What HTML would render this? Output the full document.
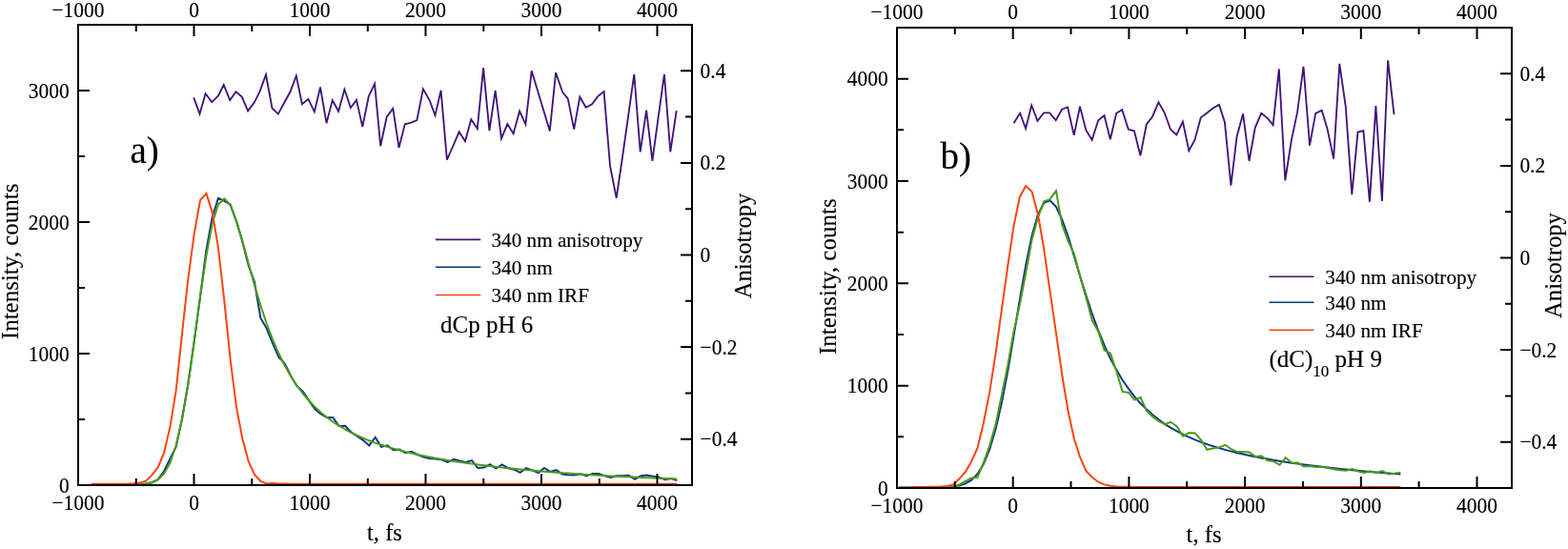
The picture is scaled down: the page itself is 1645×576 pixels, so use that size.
<!DOCTYPE html>
<html><head><meta charset="utf-8"><style>
html,body{margin:0;padding:0;background:#fff;}
svg{display:block;}
text{font-family:"Liberation Serif","Times New Roman",serif;fill:#000;stroke:#000;stroke-width:0.15px;}
.tk{font-size:22px;}
.ax{font-size:25px;}
.ax2{font-size:24.6px;}
.lg{font-size:21.2px;}
.an{font-size:25px;}
.sub{font-size:17px;}
.pl{font-size:39px;}
</style></head><body>
<svg width="1645" height="576" viewBox="0 0 1645 576">
<rect width="1645" height="576" fill="#fff"/>
<polyline points="203.2,102.4 209.5,119.6 215.6,98.2 222.3,107.2 229.0,100.5 234.7,89.0 241.2,105.1 247.5,96.3 253.8,101.6 260.1,116.4 266.6,107.8 272.6,95.9 279.0,78.3 285.5,113.5 291.8,119.6 298.2,107.8 304.5,96.3 310.8,79.5 316.9,109.3 323.4,103.9 329.9,117.3 336.0,91.5 342.5,129.2 348.8,105.3 355.1,116.7 361.4,93.8 367.9,113.1 374.0,104.9 380.3,133.0 386.8,101.1 393.1,87.9 399.2,153.2 405.7,122.7 412.3,113.9 418.5,154.9 424.8,130.3 430.7,128.8 437.4,126.1 443.9,93.4 450.7,105.3 456.5,121.1 462.6,94.8 468.9,167.7 475.4,153.0 481.7,138.3 488.0,148.3 494.3,125.3 500.8,135.1 507.1,71.1 513.4,137.2 519.7,95.0 526.0,145.4 532.3,130.1 538.6,140.2 545.1,116.5 551.4,130.3 557.7,74.3 564.0,95.1 570.3,116.0 576.8,137.4 583.1,76.2 590.0,96.4 595.8,103.6 602.2,135.6 608.3,101.7 614.7,112.8 621.1,109.4 627.2,101.1 633.6,96.1 640.0,173.9 646.7,207.8 653.0,165.0 659.2,121.1 665.3,77.8 671.7,159.4 678.1,115.6 684.4,168.9 690.6,123.3 696.9,77.8 703.3,159.4 709.7,116.1" fill="none" stroke="#42137a" stroke-width="1.85" stroke-linejoin="miter" stroke-miterlimit="4" />
<polyline points="96.0,508.4 102.4,508.4 108.7,508.4 115.0,508.4 121.4,508.4 127.7,508.4 134.0,508.4 140.4,508.4 146.7,508.2 153.0,507.6 159.4,506.2 165.7,503.2 172.0,494.5 178.4,481.5 184.7,468.6 191.0,439.5 197.4,402.5 203.7,358.4 210.0,311.7 216.4,262.5 222.7,227.8 229.0,207.9 235.4,210.9 241.7,214.7 248.0,232.3 254.4,253.8 260.7,278.5 267.0,296.1 273.4,333.7 279.7,344.6 286.0,360.2 292.4,374.6 298.7,381.4 305.0,394.2 311.4,404.9 317.7,410.7 324.0,420.1 330.3,429.1 336.7,434.3 343.0,437.9 349.3,438.1 355.7,447.0 362.0,446.7 368.3,453.3 374.7,457.6 381.0,461.8 387.3,467.4 393.7,458.7 400.0,468.9 406.3,467.3 412.7,472.3 419.0,471.6 425.3,475.2 431.7,473.7 438.0,477.0 444.3,479.6 450.7,481.1 457.0,481.6 463.3,482.2 469.7,484.8 476.0,481.7 482.3,483.5 488.7,485.0 495.0,483.1 501.3,491.0 507.7,490.6 514.0,487.2 520.3,491.5 526.7,487.5 533.0,491.0 539.3,492.7 545.7,495.8 552.0,491.2 558.3,493.4 564.7,496.0 571.0,490.9 577.3,494.9 583.6,493.2 590.0,497.5 596.3,498.2 602.6,498.5 609.0,497.2 615.3,499.1 621.6,497.0 628.0,497.1 634.3,499.2 640.6,501.0 647.0,499.3 653.3,499.2 659.6,498.7 666.0,502.9 672.3,499.3 678.6,498.5 685.0,499.7 691.3,500.8 697.6,503.2 704.0,502.0 710.3,504.0" fill="none" stroke="#0b3888" stroke-width="2.0" stroke-linejoin="miter" stroke-miterlimit="4" />
<polyline points="96.0,508.4 102.4,508.4 108.7,508.4 115.0,508.4 121.4,508.4 127.7,508.4 134.0,508.4 140.4,508.4 146.7,508.2 153.0,507.6 159.4,506.2 165.7,503.2 172.0,497.0 178.4,485.8 184.7,467.1 191.0,439.5 197.4,402.5 203.7,358.4 210.0,311.7 216.4,268.5 222.7,234.7 229.0,214.4 235.4,208.5 241.7,215.4 248.0,231.6 254.4,253.0 260.7,276.4 267.0,299.3 273.4,320.5 279.7,339.5 286.0,356.2 292.4,370.8 298.7,383.5 305.0,394.6 311.4,404.3 317.7,412.8 324.0,420.3 330.3,426.9 336.7,432.7 343.0,437.9 349.3,442.6 355.7,446.7 362.0,450.5 368.3,453.9 374.7,456.9 381.0,459.7 387.3,462.3 393.7,464.6 400.0,466.8 406.3,468.8 412.7,470.6 419.0,472.3 425.3,474.0 431.7,475.5 438.0,476.9 444.3,478.2 450.7,479.5 457.0,480.7 463.3,481.8 469.7,482.9 476.0,483.9 482.3,484.8 488.7,485.8 495.0,486.6 501.3,487.5 507.7,488.3 514.0,489.0 520.3,489.8 526.7,490.5 533.0,491.2 539.3,491.8 545.7,492.4 552.0,493.0 558.3,493.6 564.7,494.2 571.0,494.7 577.3,495.2 583.6,495.7 590.0,496.2 596.3,496.6 602.6,497.1 609.0,497.5 615.3,497.9 621.6,498.3 628.0,498.7 634.3,499.0 640.6,499.4 647.0,499.7 653.3,500.0 659.6,500.3 666.0,500.6 672.3,500.9 678.6,501.2 685.0,501.5 691.3,501.7 697.6,502.0 704.0,502.2 710.3,502.4" fill="none" stroke="#4c9a16" stroke-width="2.0" stroke-linejoin="miter" stroke-miterlimit="4" />
<polyline points="96.0,507.7 102.4,507.7 108.7,507.7 115.0,507.7 121.4,507.7 127.7,507.7 134.0,507.6 140.4,507.3 146.7,506.6 153.0,504.6 159.4,498.4 165.7,490.3 172.0,475.4 178.4,448.1 184.7,409.7 191.0,350.2 197.4,292.2 203.7,245.5 210.0,210.0 216.4,203.0 222.7,222.6 229.0,260.3 235.4,316.3 241.7,377.3 248.0,427.1 254.4,460.6 260.7,484.1 267.0,498.0 273.4,504.8 279.7,507.4 286.0,506.9 292.4,507.5 298.7,507.6 305.0,507.7 311.4,507.7 317.7,507.7 324.0,507.7 330.3,507.7 336.7,507.7 343.0,507.7 349.3,507.7 355.7,507.7 362.0,507.7 368.3,507.7 374.7,507.7 381.0,507.7 387.3,507.7 393.7,507.7 400.0,507.7 406.3,507.7 412.7,507.7 419.0,507.7 425.3,507.7 431.7,507.7 438.0,507.7 444.3,507.7 450.7,507.7 457.0,507.7 463.3,507.7 469.7,507.7 476.0,507.7 482.3,507.7 488.7,507.7 495.0,507.7 501.3,507.7 507.7,507.7 514.0,507.7 520.3,507.7 526.7,507.7 533.0,507.7 539.3,507.7 545.7,507.7 552.0,507.7 558.3,507.7 564.7,507.7 571.0,507.7 577.3,507.7 583.6,507.7 590.0,507.7 596.3,507.7 602.6,507.7 609.0,507.7 615.3,507.7 621.6,507.7 628.0,507.7 634.3,507.7 640.6,507.7 647.0,507.7 653.3,507.7 659.6,507.7 666.0,507.7 672.3,507.7 678.6,507.7 685.0,507.7 691.3,507.7 697.6,507.7 704.0,507.7 710.3,507.7" fill="none" stroke="#ff4212" stroke-width="2.0" stroke-linejoin="miter" stroke-miterlimit="4" />
<rect x="82" y="26" width="644" height="483" fill="none" stroke="#000" stroke-width="2"/>
<path d="M82.0,26v12M82.0,509v-12M203.5,26v12M203.5,509v-12M325.0,26v12M325.0,509v-12M446.5,26v12M446.5,509v-12M568.0,26v12M568.0,509v-12M689.5,26v12M689.5,509v-12M142.8,26v7M142.8,509v-7M264.3,26v7M264.3,509v-7M385.8,26v7M385.8,509v-7M507.3,26v7M507.3,509v-7M628.8,26v7M628.8,509v-7M82,509.0h12M82,371.0h12M82,233.0h12M82,95.0h12M82,440.0h7M82,302.0h7M82,164.0h7M726,460.7h-12M726,364.1h-12M726,267.5h-12M726,170.9h-12M726,74.3h-12M726,412.4h-7M726,315.8h-7M726,219.2h-7M726,122.6h-7" stroke="#000" stroke-width="2" fill="none"/>
<text transform="translate(82.0,17.5) scale(0.975,1.075)" text-anchor="middle" class="tk">−1000</text>
<text transform="translate(82.0,535.0) scale(0.975,1.075)" text-anchor="middle" class="tk">−1000</text>
<text transform="translate(203.5,17.5) scale(0.975,1.075)" text-anchor="middle" class="tk">0</text>
<text transform="translate(203.5,535.0) scale(0.975,1.075)" text-anchor="middle" class="tk">0</text>
<text transform="translate(325.0,17.5) scale(0.975,1.075)" text-anchor="middle" class="tk">1000</text>
<text transform="translate(325.0,535.0) scale(0.975,1.075)" text-anchor="middle" class="tk">1000</text>
<text transform="translate(446.5,17.5) scale(0.975,1.075)" text-anchor="middle" class="tk">2000</text>
<text transform="translate(446.5,535.0) scale(0.975,1.075)" text-anchor="middle" class="tk">2000</text>
<text transform="translate(568.0,17.5) scale(0.975,1.075)" text-anchor="middle" class="tk">3000</text>
<text transform="translate(568.0,535.0) scale(0.975,1.075)" text-anchor="middle" class="tk">3000</text>
<text transform="translate(689.5,17.5) scale(0.975,1.075)" text-anchor="middle" class="tk">4000</text>
<text transform="translate(689.5,535.0) scale(0.975,1.075)" text-anchor="middle" class="tk">4000</text>
<text transform="translate(72.7,516.5) scale(0.975,1.075)" text-anchor="end" class="tk">0</text>
<text transform="translate(72.7,378.5) scale(0.975,1.075)" text-anchor="end" class="tk">1000</text>
<text transform="translate(72.7,240.5) scale(0.975,1.075)" text-anchor="end" class="tk">2000</text>
<text transform="translate(72.7,102.5) scale(0.975,1.075)" text-anchor="end" class="tk">3000</text>
<text transform="translate(734.6,468.2) scale(0.975,1.075)" class="tk">−0.4</text>
<text transform="translate(734.6,371.6) scale(0.975,1.075)" class="tk">−0.2</text>
<text transform="translate(734.6,275.0) scale(0.975,1.075)" class="tk">0</text>
<text transform="translate(734.6,178.4) scale(0.975,1.075)" class="tk">0.2</text>
<text transform="translate(734.6,81.8) scale(0.975,1.075)" class="tk">0.4</text>
<polyline points="1063.5,129.3 1070.1,118.8 1076.1,134.8 1082.2,110.5 1088.5,126.8 1095.1,118.3 1101.2,118.3 1107.7,126.1 1114.1,114.7 1120.1,112.5 1126.7,141.9 1133.0,111.8 1139.3,136.5 1145.6,146.8 1152.2,126.3 1158.5,121.2 1164.8,146.3 1171.2,118.8 1177.2,115.2 1183.8,135.8 1189.9,137.3 1196.4,163.3 1202.8,130.5 1209.1,122.2 1215.4,107.4 1221.7,118.3 1228.0,135.8 1234.3,141.4 1240.9,127.6 1247.3,158.2 1253.4,147.0 1259.8,123.2 1266.3,118.5 1272.5,113.5 1279.0,109.9 1284.9,128.2 1291.4,194.7 1297.6,143.0 1304.1,119.4 1310.5,169.0 1316.7,134.1 1323.2,118.8 1329.7,123.8 1335.6,131.2 1341.8,72.4 1348.3,189.4 1354.8,147.4 1361.0,117.9 1367.5,69.8 1374.0,152.7 1380.2,118.8 1386.7,115.8 1392.6,135.6 1399.1,166.6 1405.3,66.8 1411.8,112.0 1418.3,204.1 1424.5,138.6 1430.4,137.1 1436.9,211.8 1443.4,111.1 1449.9,210.9 1456.1,63.3 1462.5,120.2" fill="none" stroke="#42137a" stroke-width="1.85" stroke-linejoin="miter" stroke-miterlimit="4" />
<polyline points="943.0,511.5 949.4,511.5 955.7,511.5 962.1,511.5 968.4,511.5 974.7,511.4 981.1,511.4 987.4,511.3 993.8,511.1 1000.1,510.5 1006.4,509.5 1012.8,507.4 1019.1,503.6 1025.5,497.2 1031.8,487.0 1038.1,471.7 1044.5,450.5 1050.8,423.1 1057.2,389.9 1063.5,352.7 1069.8,314.3 1076.2,278.1 1082.5,247.5 1088.9,225.2 1095.2,212.7 1101.5,210.3 1107.9,216.8 1114.2,230.2 1120.6,248.3 1126.9,268.9 1133.2,290.1 1139.6,310.6 1145.9,329.7 1152.3,347.0 1158.6,362.5 1164.9,376.1 1171.3,388.1 1177.6,398.7 1184.0,407.9 1190.3,416.1 1196.6,423.3 1203.0,429.6 1209.3,435.3 1215.7,440.3 1222.0,444.8 1228.3,448.8 1234.7,452.4 1241.0,455.7 1247.4,458.7 1253.7,461.4 1260.0,463.9 1266.4,466.1 1272.7,468.2 1279.1,470.1 1285.4,471.9 1291.7,473.6 1298.1,475.2 1304.4,476.6 1310.8,478.0 1317.1,479.3 1323.4,480.5 1329.8,481.6 1336.1,482.7 1342.5,483.8 1348.8,484.7 1355.1,485.7 1361.5,486.6 1367.8,487.4 1374.2,488.3 1380.5,489.1 1386.8,489.8 1393.2,490.5 1399.5,491.2 1405.9,491.9 1412.2,492.6 1418.5,493.2 1424.9,493.8 1431.2,494.4 1437.6,494.9 1443.9,495.5 1450.2,496.0 1456.6,496.5 1462.9,497.0 1469.3,497.5" fill="none" stroke="#0b3888" stroke-width="2.0" stroke-linejoin="miter" stroke-miterlimit="4" />
<polyline points="943.0,511.5 949.4,511.5 955.7,511.5 962.1,511.5 968.4,511.5 974.7,511.4 981.1,511.4 987.4,511.3 993.8,511.1 1000.1,510.5 1006.4,508.5 1012.8,505.0 1019.1,501.5 1025.5,500.8 1031.8,485.5 1038.1,467.9 1044.5,445.6 1050.8,414.9 1057.2,383.4 1063.5,347.9 1069.8,319.8 1076.2,286.6 1082.5,251.9 1088.9,228.2 1095.2,211.3 1101.5,209.1 1107.9,200.2 1114.2,235.7 1120.6,253.1 1126.9,266.4 1133.2,290.5 1139.6,312.8 1145.9,336.5 1152.3,348.0 1158.6,367.6 1164.9,370.4 1171.3,389.8 1177.6,410.9 1184.0,411.9 1190.3,419.6 1196.6,417.1 1203.0,431.1 1209.3,437.3 1215.7,442.0 1222.0,445.2 1228.3,442.8 1234.7,447.5 1241.0,457.7 1247.4,454.1 1253.7,454.4 1260.0,461.5 1266.4,471.8 1272.7,470.4 1279.1,469.4 1285.4,466.8 1291.7,471.2 1298.1,474.1 1304.4,474.1 1310.8,474.6 1317.1,479.1 1323.4,478.2 1329.8,483.2 1336.1,484.1 1342.5,487.8 1348.8,480.1 1355.1,485.7 1361.5,485.4 1367.8,489.5 1374.2,488.9 1380.5,490.1 1386.8,489.7 1393.2,490.9 1399.5,492.3 1405.9,493.3 1412.2,493.8 1418.5,492.0 1424.9,494.5 1431.2,495.9 1437.6,494.3 1443.9,496.3 1450.2,494.0 1456.6,497.5 1462.9,496.8 1469.3,495.7" fill="none" stroke="#4c9a16" stroke-width="2.0" stroke-linejoin="miter" stroke-miterlimit="4" />
<polyline points="955.7,510.9 962.1,510.9 968.4,510.9 974.7,510.8 981.1,510.7 987.4,510.5 993.8,509.9 1000.1,508.5 1006.4,502.3 1012.8,495.1 1019.1,484.4 1025.5,469.9 1031.8,444.0 1038.1,412.2 1044.5,371.1 1050.8,325.4 1057.2,279.6 1063.5,237.1 1069.8,206.7 1076.2,195.1 1082.5,201.0 1088.9,224.7 1095.2,261.1 1101.5,305.4 1107.9,349.2 1114.2,393.0 1120.6,431.5 1126.9,460.5 1133.2,480.0 1139.6,494.5 1145.9,500.7 1152.3,505.7 1158.6,508.4 1164.9,509.7 1171.3,510.4 1177.6,510.7 1184.0,510.8 1190.3,510.9 1196.6,510.9 1203.0,510.9 1209.3,510.9 1215.7,510.9 1222.0,510.9 1228.3,510.9 1234.7,510.9 1241.0,510.9 1247.4,510.9 1253.7,510.9 1260.0,510.9 1266.4,510.9 1272.7,510.9 1279.1,510.9 1285.4,510.9 1291.7,510.9 1298.1,510.9 1304.4,510.9 1310.8,510.9 1317.1,510.9 1323.4,510.9 1329.8,510.9 1336.1,510.9 1342.5,510.9 1348.8,510.9 1355.1,510.9 1361.5,510.9 1367.8,510.9 1374.2,510.9 1380.5,510.9 1386.8,510.9 1393.2,510.9 1399.5,510.9 1405.9,510.9 1412.2,510.9 1418.5,510.9 1424.9,510.9 1431.2,510.9 1437.6,510.9 1443.9,510.9 1450.2,510.9 1456.6,510.9 1462.9,510.9 1469.3,510.9" fill="none" stroke="#ff4212" stroke-width="2.0" stroke-linejoin="miter" stroke-miterlimit="4" />
<rect x="941" y="29" width="645" height="483" fill="none" stroke="#000" stroke-width="2"/>
<path d="M941.0,29v12M941.0,512v-12M1062.7,29v12M1062.7,512v-12M1184.4,29v12M1184.4,512v-12M1306.1,29v12M1306.1,512v-12M1427.8,29v12M1427.8,512v-12M1549.5,29v12M1549.5,512v-12M1001.8,29v7M1001.8,512v-7M1123.5,29v7M1123.5,512v-7M1245.2,29v7M1245.2,512v-7M1366.9,29v7M1366.9,512v-7M1488.6,29v7M1488.6,512v-7M941,512.0h12M941,404.7h12M941,297.3h12M941,190.0h12M941,82.7h12M941,458.3h7M941,351.0h7M941,243.7h7M941,136.3h7M1586,463.7h-12M1586,367.1h-12M1586,270.5h-12M1586,173.9h-12M1586,77.3h-12M1586,415.4h-7M1586,318.8h-7M1586,222.2h-7M1586,125.6h-7" stroke="#000" stroke-width="2" fill="none"/>
<text transform="translate(941.0,20.2) scale(0.975,1.075)" text-anchor="middle" class="tk">−1000</text>
<text transform="translate(941.0,538.0) scale(0.975,1.075)" text-anchor="middle" class="tk">−1000</text>
<text transform="translate(1062.7,20.2) scale(0.975,1.075)" text-anchor="middle" class="tk">0</text>
<text transform="translate(1062.7,538.0) scale(0.975,1.075)" text-anchor="middle" class="tk">0</text>
<text transform="translate(1184.4,20.2) scale(0.975,1.075)" text-anchor="middle" class="tk">1000</text>
<text transform="translate(1184.4,538.0) scale(0.975,1.075)" text-anchor="middle" class="tk">1000</text>
<text transform="translate(1306.1,20.2) scale(0.975,1.075)" text-anchor="middle" class="tk">2000</text>
<text transform="translate(1306.1,538.0) scale(0.975,1.075)" text-anchor="middle" class="tk">2000</text>
<text transform="translate(1427.8,20.2) scale(0.975,1.075)" text-anchor="middle" class="tk">3000</text>
<text transform="translate(1427.8,538.0) scale(0.975,1.075)" text-anchor="middle" class="tk">3000</text>
<text transform="translate(1549.5,20.2) scale(0.975,1.075)" text-anchor="middle" class="tk">4000</text>
<text transform="translate(1549.5,538.0) scale(0.975,1.075)" text-anchor="middle" class="tk">4000</text>
<text transform="translate(931.7,519.5) scale(0.975,1.075)" text-anchor="end" class="tk">0</text>
<text transform="translate(931.7,412.2) scale(0.975,1.075)" text-anchor="end" class="tk">1000</text>
<text transform="translate(931.7,304.8) scale(0.975,1.075)" text-anchor="end" class="tk">2000</text>
<text transform="translate(931.7,197.5) scale(0.975,1.075)" text-anchor="end" class="tk">3000</text>
<text transform="translate(931.7,90.2) scale(0.975,1.075)" text-anchor="end" class="tk">4000</text>
<text transform="translate(1594.4,471.2) scale(0.975,1.075)" class="tk">−0.4</text>
<text transform="translate(1594.4,374.6) scale(0.975,1.075)" class="tk">−0.2</text>
<text transform="translate(1594.4,278.0) scale(0.975,1.075)" class="tk">0</text>
<text transform="translate(1594.4,181.4) scale(0.975,1.075)" class="tk">0.2</text>
<text transform="translate(1594.4,84.8) scale(0.975,1.075)" class="tk">0.4</text>
<line x1="456.9" y1="251.4" x2="504.3" y2="251.4" stroke="#42166a" stroke-width="1.6"/>
<text x="515.5" y="258.9" class="lg">340 nm anisotropy</text>
<line x1="456.9" y1="280.2" x2="504.3" y2="280.2" stroke="#03357c" stroke-width="1.6"/>
<text x="515.5" y="287.6" class="lg">340 nm</text>
<line x1="456.9" y1="309.5" x2="504.3" y2="309.5" stroke="#f5420c" stroke-width="1.6"/>
<text x="515.5" y="316.9" class="lg">340 nm IRF</text>
<line x1="1331.4" y1="290.3" x2="1378.4" y2="290.3" stroke="#42166a" stroke-width="1.6"/>
<text x="1390.3" y="298.2" class="lg">340 nm anisotropy</text>
<line x1="1331.4" y1="317.2" x2="1378.4" y2="317.2" stroke="#03357c" stroke-width="1.6"/>
<text x="1390.3" y="324.6" class="lg">340 nm</text>
<line x1="1331.4" y1="346.3" x2="1378.4" y2="346.3" stroke="#f5420c" stroke-width="1.6"/>
<text x="1390.3" y="353.5" class="lg">340 nm IRF</text>
<text x="136.5" y="170.6" class="pl">a)</text>
<text x="986.5" y="176.9" class="pl">b)</text>
<text x="462" y="348.5" class="an">dCp pH 6</text>
<text x="1331.5" y="385.1" class="an">(dC)<tspan class="sub" dy="9.5">10</tspan><tspan dy="-9.5"> pH 9</tspan></text>
<text x="385" y="566.7" class="ax2">t, fs</text>
<text x="1244.6" y="569" class="ax2">t, fs</text>
<text transform="translate(18.75,356.2) rotate(-90)" class="ax">Intensity, counts</text>
<text transform="translate(877.2,372) rotate(-90)" class="ax">Intensity, counts</text>
<text transform="translate(787.5,313.3) rotate(-90)" class="ax2">Anisotropy</text>
<text transform="translate(1638.3,333.9) rotate(-90)" class="ax2">Anisotropy</text>
</svg>
</body></html>
